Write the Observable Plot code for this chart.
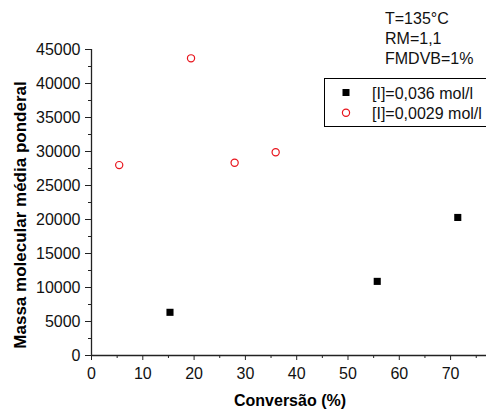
<!DOCTYPE html>
<html>
<head>
<meta charset="utf-8">
<script src="https://cdn.jsdelivr.net/npm/d3@7"></script>
<script src="https://cdn.jsdelivr.net/npm/@observablehq/plot@0.6"></script>
<style>
  html, body { margin: 0; padding: 0; background: #fff; }
  #chart svg { display: block; }
</style>
</head>
<body>
<div id="chart"></div>
<script>
// Series [I]=0,036 mol/l (filled squares)
const seriesA_label = "[I]=0,036 mol/l";
const seriesA_x = [15.3, 55.7, 71.4];
const seriesA_y = [6350, 10900, 20300];
// Series [I]=0,0029 mol/l (open red circles)
const seriesB_label = "[I]=0,0029 mol/l";
const seriesB_x = [5.4, 19.4, 27.9, 35.9];
const seriesB_y = [28000, 43700, 28350, 29900];

const xTicks = [0, 10, 20, 30, 40, 50, 60, 70];
const xMinor = [5, 15, 25, 35, 45, 55, 65, 75];
const yTicks = [0, 5000, 10000, 15000, 20000, 25000, 30000, 35000, 40000, 45000];
const yMinor = [2500, 7500, 12500, 17500, 22500, 27500, 32500, 37500, 42500];
const xTitle = "Conversão (%)";
const yTitle = "Massa molecular média ponderal";
const notes = ["T=135°C", "RM=1,1", "FMDVB=1%"];

const dataA = seriesA_x.map((x, i) => ({x, y: seriesA_y[i]}));
const dataB = seriesB_x.map((x, i) => ({x, y: seriesB_y[i]}));

const W = 486, H = 411;
const plot = Plot.plot({
  width: W,
  height: H,
  marginLeft: 91,
  marginRight: 0,
  marginTop: 49,
  marginBottom: 56,
  style: {fontFamily: "Arial, 'Liberation Sans', sans-serif", fontSize: "16px", color: "#000", background: "#fff"},
  x: {domain: [0, 77], label: null},
  y: {domain: [0, 45000], label: null},
  marks: [
    Plot.axisX({ticks: xMinor, tickSize: 3, tickFormat: () => "", stroke: "#222"}),
    Plot.axisX({ticks: xTicks, tickSize: 5, tickPadding: 7, tickFormat: d => String(d), stroke: "#222", fill: "#111"}),
    Plot.axisY({ticks: yMinor, tickSize: 3, tickFormat: () => "", stroke: "#222"}),
    Plot.axisY({ticks: yTicks, tickSize: 6, tickPadding: 5, tickFormat: d => String(d), stroke: "#222", fill: "#111"}),
    Plot.ruleY([0], {stroke: "#222", strokeWidth: 1.3}),
    Plot.ruleX([0], {stroke: "#222", strokeWidth: 1.3}),
    Plot.dot(dataA, {x: "x", y: "y", symbol: "square", r: 4, fill: "#000", stroke: "none"}),
    Plot.dot(dataB, {x: "x", y: "y", symbol: "circle", r: 3.6, fill: "none", stroke: "#e8141c", strokeWidth: 1.2})
  ]
});
document.getElementById("chart").appendChild(plot);

const svg = d3.select(plot);
const font = "Arial, 'Liberation Sans', sans-serif";

// axis titles
svg.append("text")
  .attr("x", 290).attr("y", 406)
  .attr("text-anchor", "middle")
  .attr("font-family", font).attr("font-size", 16).attr("font-weight", "bold")
  .attr("fill", "#000")
  .text(xTitle);
svg.append("text")
  .attr("transform", "translate(26,215) rotate(-90)")
  .attr("text-anchor", "middle")
  .attr("font-family", font).attr("font-size", 17).attr("font-weight", "bold")
  .attr("fill", "#000")
  .text(yTitle);

// annotations
notes.forEach((t, i) => {
  svg.append("text")
    .attr("x", 385).attr("y", 24 + i * 20)
    .attr("text-anchor", "start")
    .attr("font-family", font).attr("font-size", 16)
    .attr("fill", "#111")
    .text(t);
});

// legend
const lg = svg.append("g");
lg.append("rect")
  .attr("x", 324.5).attr("y", 78.5).attr("width", 170).attr("height", 48)
  .attr("fill", "#fff").attr("stroke", "#000").attr("stroke-width", 1);
lg.append("rect")
  .attr("x", 342.5).attr("y", 89).attr("width", 7).attr("height", 7)
  .attr("fill", "#000");
lg.append("circle")
  .attr("cx", 346).attr("cy", 112.7).attr("r", 3.6)
  .attr("fill", "none").attr("stroke", "#e8141c").attr("stroke-width", 1.2);
lg.append("text")
  .attr("x", 372).attr("y", 98.5)
  .attr("text-anchor", "start")
  .attr("font-family", font).attr("font-size", 16).attr("fill", "#111")
  .text(seriesA_label);
lg.append("text")
  .attr("x", 372).attr("y", 118.5)
  .attr("text-anchor", "start")
  .attr("font-family", font).attr("font-size", 16).attr("fill", "#111")
  .text(seriesB_label);
</script>
</body>
</html>
